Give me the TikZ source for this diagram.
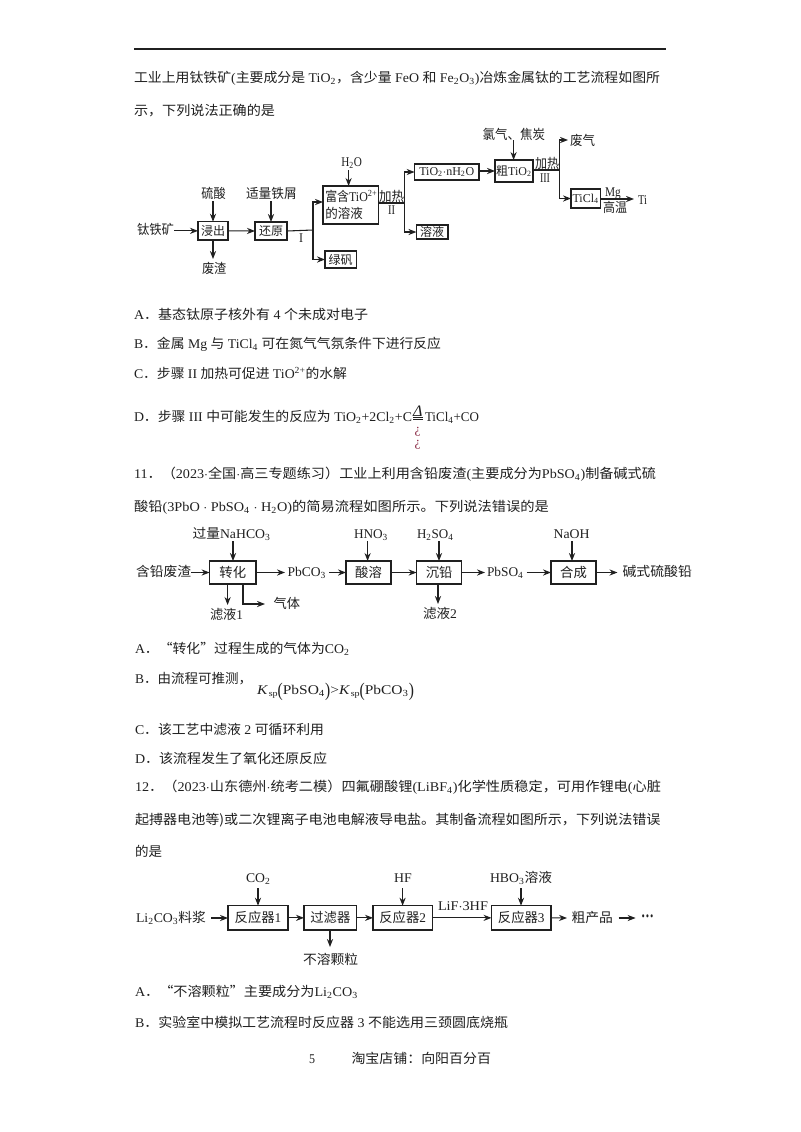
\documentclass[tikz,border=0pt]{standalone}
\usepackage{graphicx}
\usepackage{fontspec}
\setmainfont{Liberation Serif}
\newfontfamily\cjkf{Noto Sans CJK SC}
\usetikzlibrary{arrows.meta,calc}
\definecolor{ink}{HTML}{202020}
\definecolor{wine}{HTML}{8A2A45}
\newlength{\pxu}\setlength{\pxu}{0.75pt}
\newcommand\zh[1]{{\cjkf #1}}
\newcommand\sub[1]{\textsubscript{#1}}
\newcommand\Tx[5]{\node[txt] (#1) at (#2,#3+4.4) {\resizebox{#4\pxu}{\height}{#5}};}
\newcommand\Bx[6]{\node[boxn,minimum width={(#4-#2)*0.75pt},minimum height={(#5-#3)*0.75pt}] (#1) at ({(#2+#4)/2},{(#3+#5)/2}) {#6};}
\newcommand\tallp[1]{\raisebox{-1.8pt}{\scalebox{1}[1.45]{#1}}}
\tikzset{
  txt/.style={anchor=base west,inner sep=0pt,outer sep=0pt,text=ink,font=\fontsize{10}{12}\selectfont},
  boxn/.style={draw=ink,line width=0.85pt,inner sep=0pt,outer sep=0pt,text=ink,font=\fontsize{10}{12}\selectfont},
  small/.style={font=\fontsize{8.8}{10}\selectfont},
  arr/.style={draw=ink,line width=0.8pt,-{Stealth[length=6pt,width=4.6pt]}},
  lin/.style={draw=ink,line width=0.8pt}
}
\begin{document}
\begin{tikzpicture}[x=0.75pt,y=-0.75pt]
\useasboundingbox (0,0) rectangle (800,1132);
\fill[white] (0,0) rectangle (800,1132);
% header rule
\coordinate (ruleL) at (134,49);
\coordinate (ruleR) at (666,49);
\draw[draw=ink,line width=1.2pt] (ruleL) -- (ruleR);
% question text
\Tx{l1}{134}{78}{526}{\zh{工业上用钛铁矿}(\zh{主要成分是} TiO\sub{2}\zh{，含少量} FeO \zh{和} Fe\sub{2}O\sub{3})\zh{冶炼金属钛的工艺流程如图所}}
\Tx{l2}{134}{111}{141}{\zh{示，下列说法正确的是}}
% diagram 1
\Tx{d1a}{137}{230}{37}{\zh{钛铁矿}}
\Tx{d1b}{201.4}{194}{24.3}{\zh{硫酸}}
\Tx{d1c}{246}{194}{50.8}{\zh{适量铁屑}}
\Tx{d1d}{202}{269}{24.4}{\zh{废渣}}
\Bx{leach}{198}{221.7}{228}{240}{\small\zh{浸出}}
\Bx{redu}{255}{222}{287}{240}{\small\zh{还原}}
\Tx{d1i}{299}{238}{4}{I}
\Bx{rich}{323}{186}{378.6}{224}{}
\Tx{d1r1}{325.3}{197}{52}{\zh{富含}TiO\textsuperscript{2+}}
\Tx{d1r2}{325.3}{214}{37.5}{\zh{的溶液}}
\Bx{green}{325}{251}{356.4}{268}{\small\zh{绿矾}}
\Tx{d1h}{341.4}{162}{20.6}{H\sub{2}O}
\Tx{d1j1}{379}{197}{25}{\zh{加热}}
\Tx{d1ii}{388}{210}{7}{II}
\Bx{hyd}{414.6}{164}{479}{180}{\small TiO\sub{2}$\cdot$nH\sub{2}O}
\Bx{sol}{416.4}{225}{448}{239}{\small\zh{溶液}}
\Bx{crude}{495}{160}{533}{182}{\small\zh{粗}TiO\sub{2}}
\Tx{d1cl}{482.5}{135}{62.5}{\zh{氯气、焦炭}}
\Tx{d1j2}{535}{164}{24}{\zh{加热}}
\Tx{d1iii}{540}{178}{10}{III}
\Tx{d1w}{570}{141}{25}{\zh{废气}}
\Bx{ticl}{571}{189}{600.4}{208}{\small TiCl\sub{4}}
\Tx{d1mg}{605}{192}{15.7}{Mg}
\Tx{d1ht}{603}{208}{24}{\zh{高温}}
\Tx{d1ti}{638}{200}{9}{Ti}
\coordinate (j1) at (313,230);
\coordinate (j2) at (404.6,203);
\coordinate (j3) at (559.3,170);
\coordinate (t1) at (213,201);
\coordinate (t2) at (271,201);
\coordinate (t3) at (348.6,170);
\coordinate (t4) at (513.6,140);
\coordinate (t5) at (213,240);
\coordinate (t6) at (213,259);
\coordinate (e1) at (634,199);
\coordinate (e2) at (479,171);
\coordinate (e3) at (495,171);
\coordinate (w1) at (568,140);
\draw[arr] (d1a.east |- leach.west) -- (leach.west);
\draw[arr] (t1) -- (t1 |- leach.north);
\draw[arr] (t2) -- (t2 |- redu.north);
\draw[arr] (t5) -- (t6);
\draw[arr] (leach.east) -- (redu.west);
\draw[lin] (redu.east) -- (j1);
\draw[arr] (j1) |- (rich.west |- 0,202) ;
\draw[arr] (j1) |- (green.west);
\draw[arr] (t3) -- (t3 |- rich.north);
\draw[lin] (rich.east |- j2) -- (j2);
\draw[arr] (j2) |- (hyd.west);
\draw[arr] (j2) |- (sol.west);
\draw[arr] (e2) -- (e3);
\draw[arr] (t4) -- (t4 |- crude.north);
\draw[lin] (crude.east |- j3) -- (j3);
\draw[arr] (j3) |- (w1);
\draw[arr] (j3) |- (ticl.west);
\draw[arr] (ticl.east |- e1) -- (e1);
% options
\Tx{a1}{134}{315}{234}{A\zh{．基态钛原子核外有} 4 \zh{个未成对电子}}
\Tx{b1}{134}{344}{307}{B\zh{．金属} Mg \zh{与} TiCl\sub{4} \zh{可在氮气气氛条件下进行反应}}
\Tx{c1}{134}{374}{213}{C\zh{．步骤} II \zh{加热可促进} TiO\textsuperscript{2+}\zh{的水解}}
\Tx{d1}{134}{417}{278}{D\zh{．步骤} III \zh{中可能发生的反应为} TiO\sub{2}+2Cl\sub{2}+C}
\coordinate (eqa) at (413,417.5);
\coordinate (eqb) at (423,417.5);
\coordinate (eqc) at (413,419.8);
\coordinate (eqd) at (423,419.8);
\draw[draw=ink,line width=0.6pt] (eqa) -- (eqb);
\draw[draw=ink,line width=0.6pt] (eqc) -- (eqd);
\node[txt,font=\fontsize{12}{12}\selectfont] (del) at (413,416.3) {\textit{Δ}};
\Tx{d1e}{425}{417}{54}{TiCl\sub{4}+CO}
\node[txt,text=wine] (q1) at (414.5,429+4.4) {¿};
\node[txt,text=wine] (q2) at (414.5,442+4.4) {¿};
% question 11
\Tx{q11a}{134}{474}{522}{11\zh{．（}2023$\cdot$\zh{全国}$\cdot$\zh{高三专题练习）工业上利用含铅废渣}(\zh{主要成分为}PbSO\sub{4})\zh{制备碱式硫}}
\Tx{q11b}{134}{507}{415}{\zh{酸铅}(3PbO $\cdot$ PbSO\sub{4} $\cdot$ H\sub{2}O)\zh{的简易流程如图所示。下列说法错误的是}}
% diagram 2
\Tx{d2a}{136}{572}{55}{\zh{含铅废渣}}
\Tx{d2b}{192.6}{534}{78}{\zh{过量}NaHCO\sub{3}}
\Bx{conv}{209.6}{561}{256}{584}{\zh{转化}}
\Tx{d2c}{287.5}{572}{38.5}{PbCO\sub{3}}
\Bx{acid}{346}{561}{391}{584}{\zh{酸溶}}
\Tx{d2d}{354}{534}{34}{HNO\sub{3}}
\Bx{prec}{416.6}{561}{461.7}{584}{\zh{沉铅}}
\Tx{d2e}{417}{534}{36.5}{H\sub{2}SO\sub{4}}
\Tx{d2f}{487}{572}{36.5}{PbSO\sub{4}}
\Bx{synth}{551}{561}{596}{584}{\zh{合成}}
\Tx{d2g}{553.6}{534}{36}{NaOH}
\Tx{d2h}{622.5}{572}{69.5}{\zh{碱式硫酸铅}}
\Tx{d2i}{210}{615}{33}{\zh{滤液}1}
\Tx{d2j}{273.5}{604}{26.5}{\zh{气体}}
\Tx{d2k}{423}{614}{34}{\zh{滤液}2}
\coordinate (u1) at (233,541);
\coordinate (u2) at (367.6,541);
\coordinate (u3) at (439,541);
\coordinate (u4) at (572,541);
\coordinate (f1) at (227.6,605);
\coordinate (f2) at (243,584);
\coordinate (f3) at (265,604);
\coordinate (f4) at (438,604);
\coordinate (g1) at (285,572.5);
\coordinate (g2) at (329,572.5);
\coordinate (g3) at (485,572.5);
\coordinate (g4) at (526.5,572.5);
\coordinate (g5) at (617.5,572.5);
\draw[arr] (d2a.east |- conv.west) -- (conv.west);
\draw[arr] (u1) -- (u1 |- conv.north);
\draw[arr] (u2) -- (u2 |- acid.north);
\draw[arr] (u3) -- (u3 |- prec.north);
\draw[arr] (u4) -- (u4 |- synth.north);
\draw[arr] (conv.east) -- (g1);
\draw[arr] (g2) -- (acid.west);
\draw[arr] (acid.east) -- (prec.west);
\draw[arr] (prec.east) -- (g3);
\draw[arr] (g4) -- (synth.west);
\draw[arr] (synth.east) -- (g5);
\draw[arr] (f1 |- conv.south) -- (f1);
\draw[arr] (f2) |- (f3);
\draw[arr] (f4 |- prec.south) -- (f4);
% options 11
\Tx{a2}{135}{649}{214.6}{A\zh{．“转化”过程生成的气体为}CO\sub{2}}
\Tx{b2}{135}{679}{117}{B\zh{．由流程可推测，}}
\Tx{b2f}{257}{690}{157}{\textit{K}\hspace{0.5pt}{\fontsize{6.5}{7}\selectfont\raisebox{-1.5pt}{sp}}\tallp{(}PbSO\sub{4}\tallp{)}>\textit{K}\hspace{0.5pt}{\fontsize{6.5}{7}\selectfont\raisebox{-1.5pt}{sp}}\tallp{(}PbCO\sub{3}\tallp{)}}
\Tx{c2}{135}{730}{189}{C\zh{．该工艺中滤液} 2 \zh{可循环利用}}
\Tx{d2}{135}{759}{192}{D\zh{．该流程发生了氧化还原反应}}
% question 12
\Tx{q12a}{135}{787}{526}{12\zh{．（}2023$\cdot$\zh{山东德州}$\cdot$\zh{统考二模）四氟硼酸锂}(LiBF\sub{4})\zh{化学性质稳定，可用作锂电}(\zh{心脏}}
\Tx{q12b}{135}{820}{525.5}{\zh{起搏器电池等}\zh{)或二次锂离子电池电解液导电盐。其制备流程如图所示，下列说法错误}}
\Tx{q12c}{135}{852}{27}{\zh{的是}}
% diagram 3
\Tx{d3a}{136}{918}{70}{Li\sub{2}CO\sub{3}\zh{料浆}}
\Bx{r1}{228}{905.7}{288}{930}{\zh{反应器}1}
\Tx{d3b}{246}{878}{24.5}{CO\sub{2}}
\Bx{filt}{304}{905.7}{356.7}{930}{\zh{过滤器}}
\Bx{r2}{373}{905.7}{432.4}{930}{\zh{反应器}2}
\Tx{d3c}{394}{878}{17.7}{HF}
\Tx{d3d}{438}{906}{50}{LiF$\cdot$3HF}
\Bx{r3}{491.5}{905.7}{551}{930}{\zh{反应器}3}
\Tx{d3e}{490}{878}{62}{HBO\sub{3}\zh{溶液}}
\Tx{d3f}{571.6}{918}{41.4}{\zh{粗产品}}
\Tx{d3g}{641}{918}{13}{{\fontsize{14}{14}\selectfont\bfseries ···}}
\Tx{d3h}{303}{960}{55}{\zh{不溶颗粒}}
\coordinate (v1) at (258,888);
\coordinate (v2) at (402.6,888);
\coordinate (v3) at (521,888);
\coordinate (v4) at (330,947);
\coordinate (h1) at (211,918);
\coordinate (h2) at (567,918);
\coordinate (h3) at (618.7,918);
\coordinate (h4) at (635.6,918);
\draw[arr] (h1) -- (h1 -| r1.west);
\draw[arr] (v1) -- (v1 |- r1.north);
\draw[arr] (v2) -- (v2 |- r2.north);
\draw[arr] (v3) -- (v3 |- r3.north);
\draw[arr] (r1.east) -- (filt.west);
\draw[arr] (filt.east) -- (r2.west);
\draw[arr] (r2.east) -- (r3.west);
\draw[arr] (r3.east) -- (h2);
\draw[arr] (h3) -- (h4);
\draw[arr] (v4 |- filt.south) -- (v4);
% options 12
\Tx{a3}{135}{992}{223}{A\zh{．“不溶颗粒”主要成分为}Li\sub{2}CO\sub{3}}
\Tx{b3}{135}{1023}{373}{B\zh{．实验室中模拟工艺流程时反应器} 3 \zh{不能选用三颈圆底烧瓶}}
% footer
\Tx{foot}{309}{1059}{6}{5}
\Tx{shop}{351.5}{1059}{139.5}{\zh{淘宝店铺：向阳百分百}}
\end{tikzpicture}
\end{document}
